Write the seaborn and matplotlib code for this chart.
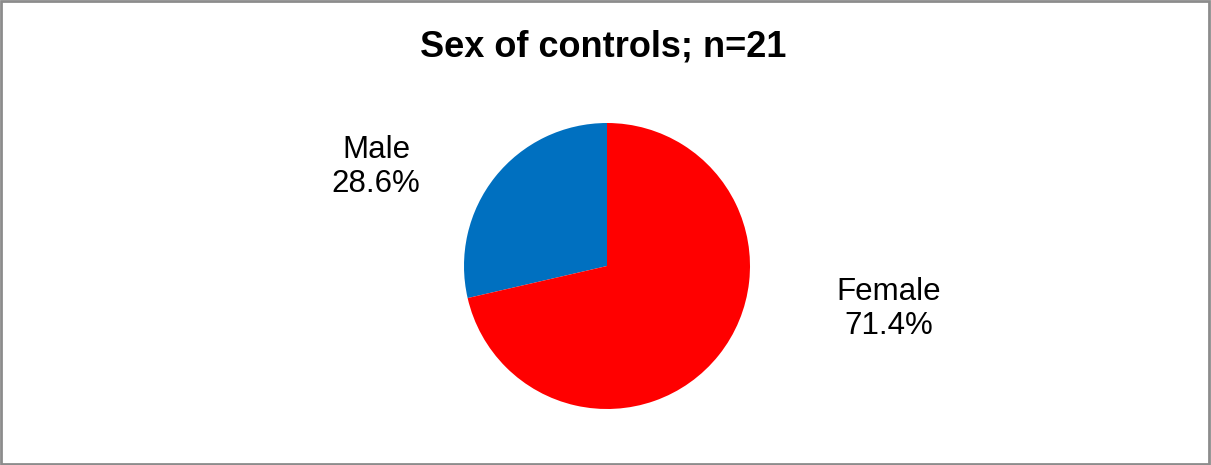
import matplotlib
matplotlib.use("Agg")
import matplotlib.pyplot as plt
import seaborn as sns
from matplotlib.patches import Rectangle

categories = ["Male", "Female"]
values = [28.6, 71.4]
colors = ["#0070C0", "#FF0000"]
title = "Sex of controls; n=21"

sns.set_theme(style="white")
plt.rcParams['font.family'] = ['Liberation Sans', 'DejaVu Sans']

W, H = 1211, 465
fig = plt.figure(figsize=(W / 100, H / 100), dpi=100)
ax = fig.add_axes([0, 0, 1, 1])

cx, cy, r = 607, 199, 143
wedges, _ = ax.pie(values, colors=colors, startangle=90, counterclock=True,
                   center=(cx, cy), radius=r, frame=True,
                   wedgeprops=dict(linewidth=0))
ax.set_xlim(0, W)
ax.set_ylim(0, H)
ax.set_aspect('equal')
ax.axis('off')

label_pos = [(376, 298), (889, 156)]
for cat, v, (x, y) in zip(categories, values, label_pos):
    ax.text(x, y, f"{cat}\n{v:.1f}%", ha='center', va='center',
            fontsize=22.5, color='black', linespacing=1.15)

fig.text(603 / W, 1 - 57 / H, title, ha='center', va='baseline',
         fontsize=26, fontweight='bold', color='black')

fig.patches.append(Rectangle((0.001, 0.003), 0.9975, 0.995, transform=fig.transFigure,
                             fill=False, edgecolor='#8c8c8c', linewidth=2))

fig.savefig("out.png", dpi=100)
